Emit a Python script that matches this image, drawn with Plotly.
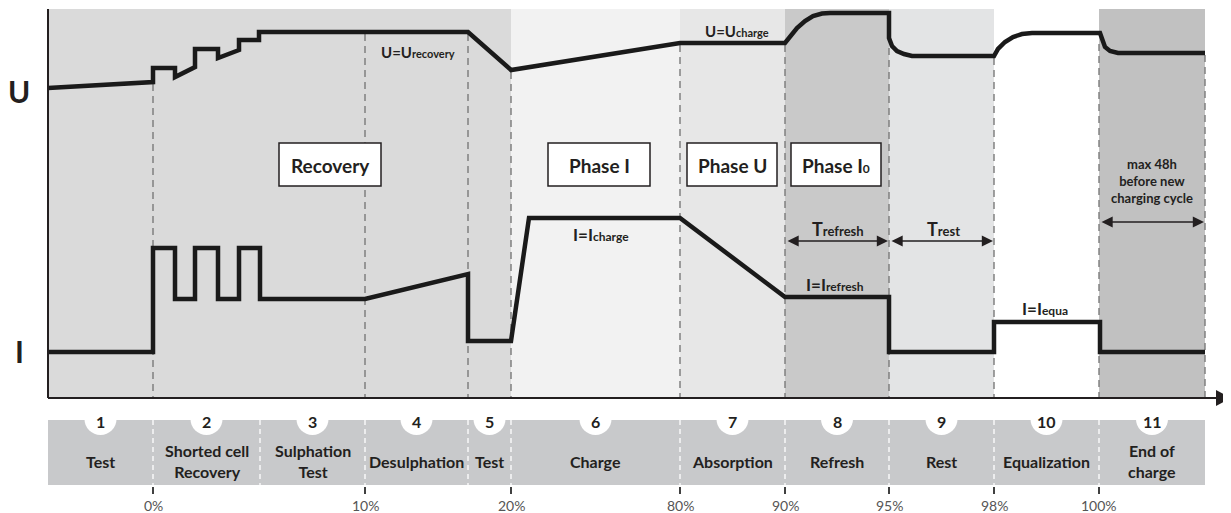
import plotly.graph_objects as go

# ---------------- data (diagram units: x to the right, y downward) ----------------
stage_edges = [48, 153, 260, 365, 468, 511, 680, 785, 889, 994, 1099, 1205]
stage_nums = ["1", "2", "3", "4", "5", "6", "7", "8", "9", "10", "11"]
stage_names = ["Test", "Shorted cell<br>Recovery", "Sulphation<br>Test", "Desulphation", "Test",
               "Charge", "Absorption", "Refresh", "Rest", "Equalization", "End of<br>charge"]

# background shading of the upper chart
bg_edges = [48, 511, 680, 785, 889, 994, 1099, 1205]
bg_colors = ["#dadada", "#f2f2f2", "#e7e7e7", "#c9c9c9", "#e3e4e5", "#ffffff", "#c1c1c1"]

pct_pos = [153, 365, 511, 680, 785, 889, 994, 1099]
pct_labels = ["0%", "10%", "20%", "80%", "90%", "95%", "98%", "100%"]

# voltage curve
u_x = [48, 153, 153, 175, 175, 195, 195, 218, 218, 239, 239, 259, 259, 468, 511, 680, 785,
       790, 797, 805, 813, 822, 830, 889, 889, 892, 897, 904, 912, 994,
       998, 1005, 1013, 1022, 1032, 1100, 1102, 1105, 1110, 1118, 1205]
u_y = [88, 82, 68, 68, 77, 67, 49, 49, 58, 50, 40, 40, 32, 32, 70, 43, 43,
       36, 28, 21, 16, 13.5, 13, 13, 38, 46, 51, 54, 56, 56,
       49, 42, 37, 34, 33, 33, 40, 47, 51, 53, 53]

# current curve
i_x = [48, 153, 153, 175, 175, 195, 195, 218, 218, 239, 239, 260, 260, 365, 468, 468, 511,
       529, 680, 785, 889, 889, 994, 994, 1100, 1100, 1205]
i_y = [352, 352, 248, 248, 299, 299, 248, 248, 299, 299, 248, 248, 299, 299, 274, 341, 341,
       218, 218, 297, 297, 352, 352, 322, 322, 352, 352]

# dashed separators of the upper chart (x, top of dash)
sep_x = [153, 365, 468, 511, 680, 785, 889, 994, 1099, 1205]
sep_top = [84, 34, 34, 72, 45, 45, 48, 58, 44, 55]

# phase boxes
box_main = ["Recovery", "Phase I", "Phase U", "Phase I"]
box_sub = ["", "", "", "0"]
box_x0 = [279, 548, 687, 791]
box_x1 = [381, 650, 777, 881]

# curve labels (main letter part, subscript part)
lab_main = ["U=U", "U=U", "I=I", "I=I", "I=I", "T", "T", "max 48h<br>before new<br>charging cycle"]
lab_sub = ["recovery", "charge", "charge", "refresh", "equa", "refresh", "rest", ""]
lab_x = [418, 737, 601, 835, 1045, 838, 943, 1152]
lab_y = [52, 31, 234, 284, 308, 229, 229, 181]
lab_size = [15, 15, 17, 17, 17, 18, 18, 13]
lab_sub_size = [11, 11, 12, 12, 12, 13, 13, 10]

# double arrows (x start, x end, y)
arr_x0 = [786, 890, 1100]
arr_x1 = [888, 993, 1204]
arr_y = [241, 241, 222]

# ---------------- layout constants ----------------
W, H = 1231, 513
PAGE_OFF = 8          # default body margin of the html page
TOP, AXIS_Y = 9, 398
BAR_TOP, BAR_BOT = 420, 485
FONT = "Lato"
DARK = "#231f20"

fig = go.Figure()
shapes = []
annotations = []

for x0, x1, c in zip(bg_edges[:-1], bg_edges[1:], bg_colors):
    shapes.append(dict(type="rect", xref="x", yref="y", x0=x0, x1=x1, y0=TOP, y1=AXIS_Y,
                       fillcolor=c, line=dict(width=0), layer="below"))

# bottom stage bar
shapes.append(dict(type="rect", xref="x", yref="y", x0=stage_edges[0], x1=stage_edges[-1],
                   y0=BAR_TOP, y1=BAR_BOT, fillcolor="#c8c9cb", line=dict(width=0), layer="below"))
for e in stage_edges[1:-1]:
    shapes.append(dict(type="line", xref="x", yref="y", x0=e, x1=e, y0=BAR_TOP, y1=BAR_BOT,
                       line=dict(color="white", width=1.3, dash="5px,4px")))
centers = [(a + b) / 2 for a, b in zip(stage_edges[:-1], stage_edges[1:])]
for cx in centers:
    shapes.append(dict(type="circle", xref="x", yref="y", x0=cx - 16, x1=cx + 16,
                       y0=BAR_TOP - 17, y1=BAR_TOP + 15, fillcolor="white", line=dict(width=0)))
for cx, n, name in zip(centers, stage_nums, stage_names):
    annotations.append(dict(x=cx, y=BAR_TOP + 1, text=f"<b>{n}</b>", showarrow=False,
                            font=dict(family=FONT, size=16, color=DARK)))
    annotations.append(dict(x=cx, y=461, text=f"<b>{name}</b>", showarrow=False,
                            font=dict(family=FONT, size=16, color=DARK)))
for px, pl in zip(pct_pos, pct_labels):
    shapes.append(dict(type="line", xref="x", yref="y", x0=px, x1=px, y0=487, y1=494,
                       line=dict(color="black", width=1.5)))
    annotations.append(dict(x=px, y=505, text=pl, showarrow=False,
                            font=dict(family=FONT, size=14, color="#555555")))

# dashed separators
dx, dy = [], []
for x, t in zip(sep_x, sep_top):
    dx += [x, x, None]
    dy += [t, AXIS_Y, None]
fig.add_trace(go.Scatter(x=dx, y=dy, mode="lines", hoverinfo="skip",
                         line=dict(color="#7a7a7a", width=1.4, dash="7px,5px")))

# boxes
for m, s, x0, x1 in zip(box_main, box_sub, box_x0, box_x1):
    shapes.append(dict(type="rect", xref="x", yref="y", x0=x0, x1=x1, y0=143, y1=186,
                       fillcolor="white", line=dict(color="#231f20", width=1.5)))
    txt = f"<b>{m}</b>" + (f"<b><span style='font-size:12px'>{s}</span></b>" if s else "")
    annotations.append(dict(x=(x0 + x1) / 2, y=165, text=txt, showarrow=False,
                            font=dict(family=FONT, size=19, color=DARK)))

# curves
fig.add_trace(go.Scatter(x=u_x, y=u_y, mode="lines", hoverinfo="skip",
                         line=dict(color="#1a1a1a", width=4.5)))
fig.add_trace(go.Scatter(x=i_x, y=i_y, mode="lines", hoverinfo="skip",
                         line=dict(color="#1a1a1a", width=4.5)))

# axes
shapes.append(dict(type="line", xref="x", yref="y", x0=48, x1=48, y0=TOP, y1=AXIS_Y,
                   line=dict(color="#231f20", width=2)))
shapes.append(dict(type="line", xref="x", yref="y", x0=48, x1=1218, y0=AXIS_Y, y1=AXIS_Y,
                   line=dict(color="#231f20", width=2.2)))
shapes.append(dict(type="path", xref="x", yref="y",
                   path=f"M 1216 {AXIS_Y-8} L 1231 {AXIS_Y} L 1216 {AXIS_Y+8} Z",
                   fillcolor="#231f20", line=dict(width=0)))

annotations.append(dict(x=19, y=91, text="<b>U</b>", showarrow=False,
                        font=dict(family=FONT, size=30, color=DARK)))
annotations.append(dict(x=19, y=351, text="<b>I</b>", showarrow=False,
                        font=dict(family=FONT, size=30, color=DARK)))

for m, s, x, y, fs, ss in zip(lab_main, lab_sub, lab_x, lab_y, lab_size, lab_sub_size):
    txt = f"<b>{m}</b>" + (f"<b><span style='font-size:{ss}px'>{s}</span></b>" if s else "")
    annotations.append(dict(x=x, y=y, text=txt, showarrow=False,
                            font=dict(family=FONT, size=fs, color=DARK)))

for x0, x1, y in zip(arr_x0, arr_x1, arr_y):
    annotations.append(dict(x=x1, y=y, ax=x0, ay=y, xref="x", yref="y", axref="x", ayref="y",
                            text="", showarrow=True, arrowhead=2, startarrowhead=2,
                            arrowside="end+start", arrowsize=1.4, arrowwidth=1.6,
                            arrowcolor=DARK, startarrowsize=1.4))

fig.update_layout(
    width=W - PAGE_OFF, height=H - PAGE_OFF, autosize=False,
    margin=dict(l=0, r=0, t=0, b=0),
    paper_bgcolor="white", plot_bgcolor="white",
    showlegend=False,
    shapes=shapes, annotations=annotations,
    xaxis=dict(range=[PAGE_OFF, W], visible=False, fixedrange=True),
    yaxis=dict(range=[H, PAGE_OFF], visible=False, fixedrange=True),
)

fig.write_html("out.html", config=dict(displayModeBar=False))
